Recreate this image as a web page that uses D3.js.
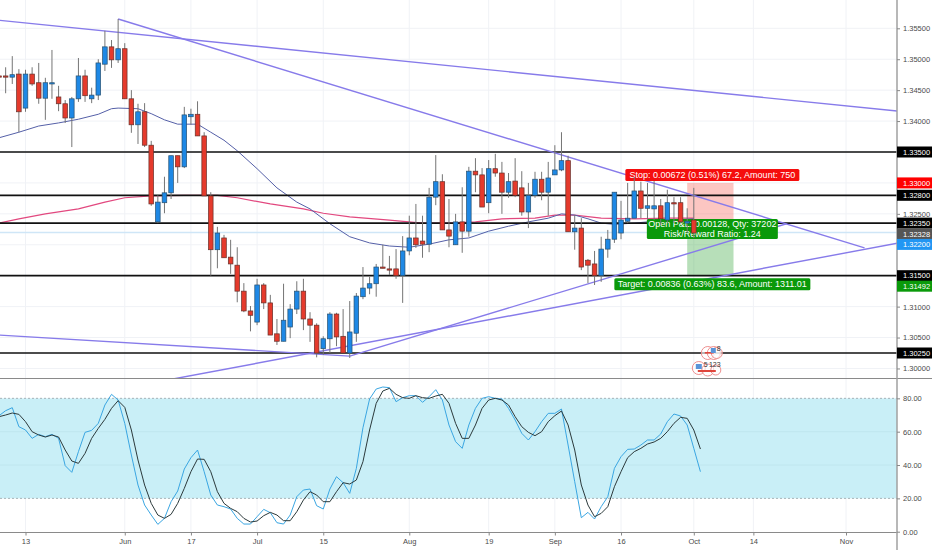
<!DOCTYPE html>
<html>
<head>
<meta charset="utf-8">
<script src="https://cdnjs.cloudflare.com/ajax/libs/d3/7.8.5/d3.min.js"></script>
<style>
  html, body { margin: 0; padding: 0; background: #fff; }
  svg { display: block; font-family: "Liberation Sans", sans-serif; }
  .axis path, .axis line { stroke: none; }
  .axis text { fill: #4a4a4a; font-family: "Liberation Sans", sans-serif; }
</style>
</head>
<body>
<div id="chart"></div>
<script>
// Daily candles, bar number 0 is 13 May, first visible bar is -4
const firstBar = -4;
const opens = [
  1.3473,1.3473,1.3471,1.3476,1.3421,1.3476,1.3462,1.3437,1.3460,1.3439,
  1.3428,1.3405,1.3436,1.3473,1.3436,1.3442,1.3492,1.3520,1.3499,1.3517,
  1.3436,1.3394,1.3415,1.3361,1.3237,1.3268,1.3284,1.3344,1.3326,1.3407,
  1.3411,1.3376,1.3279,1.3192,1.3211,1.3180,1.3167,1.3125,1.3093,1.3075,
  1.3135,1.3106,1.3056,1.3044,1.3067,1.3096,1.3125,1.3080,1.3070,1.3032,
  1.3048,1.3088,1.3052,1.3025,1.3057,1.3116,1.3130,1.3137,1.3164,1.3161,
  1.3161,1.3150,1.3190,1.3211,1.3206,1.3201,1.3277,1.3302,1.3224,1.3200,
  1.3237,1.3222,1.3319,1.3313,1.3268,1.3323,1.3316,1.3285,1.3303,1.3292,
  1.3253,1.3280,1.3306,1.3285,1.3313,1.3321,1.3336,1.3221,1.3227,1.3175,
  1.3169,1.3150,1.3193,1.3209,1.3219,1.3238,1.3243,1.3287,1.3259,1.3258,
  1.3263,1.3240,1.3268,1.3268,1.3235,1.3240
];
const highs = [
  1.3471,1.3487,1.3505,1.3484,1.3483,1.3487,1.3494,1.3470,1.3515,1.3457,
  1.3434,1.3439,1.3502,1.3483,1.3454,1.3500,1.3546,1.3531,1.3565,1.3526,
  1.3450,1.3428,1.3429,1.3368,1.3280,1.3310,1.3344,1.3344,1.3423,1.3420,
  1.3432,1.3382,1.3285,1.3229,1.3216,1.3208,1.3196,1.3138,1.3101,1.3145,
  1.3138,1.3119,1.3080,1.3137,1.3104,1.3141,1.3145,1.3091,1.3073,1.3052,
  1.3091,1.3090,1.3096,1.3109,1.3122,1.3164,1.3148,1.3169,1.3200,1.3182,
  1.3193,1.3214,1.3247,1.3266,1.3247,1.3292,1.3345,1.3314,1.3274,1.3250,
  1.3293,1.3326,1.3340,1.3324,1.3337,1.3347,1.3334,1.3316,1.3340,1.3319,
  1.3300,1.3318,1.3318,1.3334,1.3361,1.3382,1.3344,1.3248,1.3243,1.3177,
  1.3190,1.3213,1.3224,1.3285,1.3271,1.3300,1.3310,1.3302,1.3300,1.3303,
  1.3274,1.3289,1.3277,1.3277,1.3259,1.3292
];
const lows = [
  1.3445,1.3445,1.3460,1.3382,1.3415,1.3457,1.3428,1.3402,1.3436,1.3416,
  1.3397,1.3358,1.3431,1.3431,1.3429,1.3434,1.3481,1.3486,1.3494,1.3436,
  1.3381,1.3363,1.3358,1.3263,1.3235,1.3251,1.3274,1.3300,1.3324,1.3394,
  1.3376,1.3279,1.3150,1.3162,1.3179,1.3153,1.3107,1.3091,1.3060,1.3070,
  1.3096,1.3054,1.3038,1.3044,1.3049,1.3088,1.3062,1.3043,1.3018,1.3022,
  1.3025,1.3036,1.3025,1.3017,1.3043,1.3112,1.3120,1.3116,1.3162,1.3151,
  1.3145,1.3106,1.3183,1.3195,1.3179,1.3188,1.3264,1.3224,1.3196,1.3200,
  1.3187,1.3213,1.3285,1.3261,1.3251,1.3310,1.3250,1.3276,1.3277,1.3247,
  1.3227,1.3276,1.3272,1.3247,1.3313,1.3319,1.3221,1.3192,1.3159,1.3138,
  1.3135,1.3140,1.3179,1.3203,1.3209,1.3235,1.3243,1.3243,1.3240,1.3240,
  1.3232,1.3235,1.3235,1.3235,1.3219,1.3211
];
const closes = [
  1.3471,1.3471,1.3475,1.3415,1.3476,1.3460,1.3437,1.3462,1.3462,1.3428,
  1.3405,1.3436,1.3473,1.3441,1.3442,1.3494,1.3520,1.3499,1.3517,1.3436,
  1.3394,1.3415,1.3361,1.3266,1.3269,1.3284,1.3344,1.3326,1.3410,1.3411,
  1.3376,1.3279,1.3192,1.3219,1.3179,1.3169,1.3125,1.3093,1.3086,1.3135,
  1.3106,1.3054,1.3044,1.3078,1.3096,1.3125,1.3080,1.3070,1.3025,1.3048,
  1.3088,1.3051,1.3025,1.3059,1.3117,1.3130,1.3137,1.3164,1.3162,1.3159,
  1.3150,1.3190,1.3211,1.3200,1.3201,1.3277,1.3302,1.3224,1.3214,1.3237,
  1.3222,1.3319,1.3313,1.3261,1.3323,1.3316,1.3285,1.3302,1.3280,1.3253,
  1.3280,1.3306,1.3285,1.3308,1.3321,1.3336,1.3221,1.3227,1.3164,1.3167,
  1.3150,1.3193,1.3209,1.3285,1.3240,1.3243,1.3287,1.3259,1.3263,1.3263,
  1.3242,1.3268,1.3266,1.3237,1.3238,1.3219
];

// Moving averages, read at every few bars
const maBars = [-4,-1,2,5,8,11,13,14,17,19,21,23,25,26,28,30,32,35,38,41,43,46,49,52,55,58,61,64,67,70,73,76,79,81,83,85,87,89,92,95,98,101];
const maValues = [
  1.3373,1.3382,1.3392,1.3397,1.3403,1.3411,1.3420,1.3421,1.3420,1.3412,1.3402,1.3395,1.3395,1.3395,
  1.3382,1.3369,1.3352,1.3323,1.3292,1.3269,1.3258,1.3234,1.3213,1.3203,1.3198,1.3196,1.3201,1.3208,
  1.3211,1.3222,1.3230,1.3237,1.3243,1.3250,1.3248,1.3242,1.3235,1.3233,1.3235,1.3238,1.3240,1.3242
];
const longMaBars = [-4,-1,3,8,12,15,19,24,29,32,37,42,45,49,55,60,64,68,72,77,80,83,87,92,97,101];
const longMaValues = [
  1.3235,1.3242,1.3250,1.3258,1.3269,1.3276,1.3279,1.3280,1.3280,1.3276,1.3266,1.3258,1.3251,
  1.3245,1.3240,1.3235,1.3235,1.3237,1.3242,1.3243,1.3248,1.3248,1.3243,1.3242,1.3243,1.3243
];

// Stochastic, one value for each bar from firstBar on
const stochK = [
  69.6,72.6,74.4,63,61,56,58.4,57,58.4,56,39.6,35.6,48,59.6,60.8,65,76,82.4,79,65,
  46,28,16,10,4.4,8,18,24.4,37.6,44.4,49,36,22,16,15,13.6,8,4.6,4.6,9,
  13.4,11.4,5.4,4.6,10,21,25,25.6,15.6,13.6,25.6,33,29.4,23,38,62.4,79.6,85.6,86.8,86.4,
  78,80.4,81.6,81.6,77.6,81,85.2,79,64,54,50,64,74,80,81,80,79.6,74,67,59,
  55,60,66,71,71,73.6,52,30,8.4,11.6,7.6,15,21,38,45,49.4,49.6,52,55,55,
  58.6,66,70.6,69.4,64,50,36
];
const stochD = [
  69,70,71.2,70.4,66,60,58,56.8,58,56.8,49,42.4,41,47,56,62,67.4,74,78.6,74.6,
  61,43,28,17,10,8,10.4,17,26,36,43.6,43.4,36,24,17,14,12,8,5.8,6.4,
  9.6,11.6,10,6.6,6.6,12,19,24,22,18,18,24,29.4,28.6,31,42,61,77,84.4,86,
  82.4,80.4,80,81.6,80.4,80,81.4,82.4,77,65,56,56,64,74,79,80,79,76,69,63,
  59.6,57.6,60,66,69.6,72.4,64,49,28,16,9,11,15,27,36,44.4,48,50,52.6,53.8,
  56,60,65,68.6,68,61,49.6
];

// Horizontal levels and hand drawn trend lines [bar, price, bar, price]
const levels = [1.335, 1.328, 1.3235, 1.315, 1.3025];
const trendLines = [
  [-4, 1.3563, 132, 1.3416],
  [14, 1.3565, 126.8, 1.3195],
  [22.3, 1.2983, 132, 1.3203],
  [49, 1.3020, 115, 1.3234],
  [-4, 1.3054, 49, 1.3020]
];

// Axis labels
const priceTicks = [1.355, 1.35, 1.345, 1.34, 1.335, 1.33, 1.325, 1.32, 1.31, 1.305, 1.30];
const priceLabels = [1.355, 1.35, 1.345, 1.34, 1.325, 1.31, 1.305, 1.30];
const stochTicks = [80, 60, 40, 20, 0];
const timeBars = [0, 15, 25, 35, 45, 58, 70, 80, 90, 101, 110, 124];
const timeLabels = ["13", "Jun", "17", "Jul", "15", "Aug", "19", "Sep", "16", "Oct", "14", "Nov"];

// Price tags on the right
const tagPrices = [1.335, 1.33, 1.328, 1.3235, 1.32328, 1.322, 1.315, 1.31492, 1.3025];
const tagNudge = [0, 0, 0, 0, 10, 12, 0, 10, 0];
const tagColors = ["#000", "#f00", "#000", "#000", "#555", "#2196f3", "#000", "#0a9a0a", "#000"];

// Long position tool
const entryPrice = 1.32328, stopPrice = 1.33, targetPrice = 1.31492;
const positionBars = [100, 107];
const stopText = "Stop: 0.00672 (0.51%) 67.2, Amount: 750";
const pnlText = ["Open P&L: 0.00128, Qty: 37202", "Risk/Reward Ratio: 1.24"];
const targetText = "Target: 0.00836 (0.63%) 83.6, Amount: 1311.01";

const eventNumbers = ["8", "5", "12", "3"];

const width = 932, height = 550;
const axisX = 897, paneBottom = 378.5, stochBottom = 532.5;

const x = d3.scaleLinear().domain([0, 124]).range([25.5, 846]);
const y = d3.scaleLinear().domain([1.3025, 1.335]).range([353, 152]);
const yStoch = d3.scaleLinear().domain([0, 100]).range([531.7, 365]);

const svg = d3.select("#chart").append("svg")
  .attr("width", width)
  .attr("height", height);

svg.append("defs").append("clipPath").attr("id", "pricePane")
  .append("rect").attr("width", axisX).attr("height", paneBottom);

// Grid
const grid = svg.append("g").attr("stroke", "#f0f2f6").attr("stroke-width", 1);
grid.selectAll(".v").data(timeBars).join("line")
  .attr("x1", d => x(d)).attr("x2", d => x(d))
  .attr("y1", 0).attr("y2", stochBottom);
grid.selectAll(".h").data(priceTicks).join("line")
  .attr("x1", 0).attr("x2", axisX)
  .attr("y1", d => y(d)).attr("y2", d => y(d));

// Stochastic band
svg.append("rect")
  .attr("x", 0).attr("width", axisX)
  .attr("y", yStoch(80)).attr("height", yStoch(20) - yStoch(80))
  .attr("fill", "#c9eff7");
svg.selectAll(".stochGrid").data([60, 40]).join("line")
  .attr("x1", 0).attr("x2", axisX)
  .attr("y1", d => yStoch(d)).attr("y2", d => yStoch(d))
  .attr("stroke", "#bfe6ee");
svg.selectAll(".stochBand").data([80, 20]).join("line")
  .attr("x1", 0).attr("x2", axisX)
  .attr("y1", d => yStoch(d)).attr("y2", d => yStoch(d))
  .attr("stroke", "#a5b3b8")
  .attr("stroke-dasharray", "2,2");

const pane = svg.append("g").attr("clip-path", "url(#pricePane)");

// Position tool areas
pane.append("rect")
  .attr("x", x(positionBars[0])).attr("width", x(positionBars[1]) - x(positionBars[0]))
  .attr("y", y(stopPrice)).attr("height", y(entryPrice) - y(stopPrice))
  .attr("fill", "#f44336").attr("opacity", 0.3);
pane.append("rect")
  .attr("x", x(positionBars[0])).attr("width", x(positionBars[1]) - x(positionBars[0]))
  .attr("y", y(entryPrice)).attr("height", y(targetPrice) - y(entryPrice))
  .attr("fill", "#4caf50").attr("opacity", 0.4);

// Last price line
pane.append("line")
  .attr("x1", 0).attr("x2", axisX)
  .attr("y1", y(1.322)).attr("y2", y(1.322))
  .attr("stroke", "#cfe6f7").attr("stroke-width", 1.5);

// Moving averages
const maLine = d3.line().x(d => x(d[0])).y(d => y(d[1]));
pane.append("path")
  .attr("d", maLine(d3.zip(longMaBars, longMaValues)))
  .attr("fill", "none").attr("stroke", "#e2487f").attr("stroke-width", 1.2);
pane.append("path")
  .attr("d", maLine(d3.zip(maBars, maValues)))
  .attr("fill", "none").attr("stroke", "#5560a8").attr("stroke-width", 1);

// Levels
pane.selectAll(".level").data(levels).join("line")
  .attr("x1", 0).attr("x2", axisX)
  .attr("y1", d => y(d)).attr("y2", d => y(d))
  .attr("stroke", "#111").attr("stroke-width", 1.7);

// Trend lines
pane.selectAll(".trend").data(trendLines).join("line")
  .attr("x1", d => x(d[0])).attr("y1", d => y(d[1]))
  .attr("x2", d => x(d[2])).attr("y2", d => y(d[3]))
  .attr("stroke", "#877bea").attr("stroke-width", 1.4);

// Position tool labels
function label(cy, w, h, fill, lines) {
  const cx = (x(positionBars[0]) + x(positionBars[1])) / 2 + 2;
  pane.append("rect")
    .attr("x", cx - w / 2).attr("y", cy - h / 2)
    .attr("width", w).attr("height", h)
    .attr("rx", 1.5).attr("fill", fill);
  lines.forEach((t, i) => {
    pane.append("text")
      .attr("x", cx)
      .attr("y", cy + 3 + (i - (lines.length - 1) / 2) * 10)
      .attr("text-anchor", "middle")
      .attr("fill", "#fff")
      .style("font-size", "9px")
      .text(t);
  });
}
label(y(stopPrice) - 8, 174, 12, "#f50d0d", [stopText]);
label(y(entryPrice) + 4.5, 131, 20, "#0a990a", pnlText);
label(y(targetPrice) + 8, 196, 12, "#0a990a", [targetText]);

// Candles
const bars = opens.map((o, i) => ({ bar: firstBar + i, o, h: highs[i], l: lows[i], c: closes[i] }));
const candles = pane.selectAll(".candle").data(bars).join("g");
candles.append("line")
  .attr("x1", d => x(d.bar)).attr("x2", d => x(d.bar))
  .attr("y1", d => y(d.h)).attr("y2", d => y(d.l))
  .attr("stroke", "#757575").attr("stroke-width", 1);
candles.append("rect")
  .attr("x", d => x(d.bar) - 2.3).attr("width", 4.6)
  .attr("y", d => y(Math.max(d.o, d.c)))
  .attr("height", d => Math.max(Math.abs(y(d.o) - y(d.c)), 0.6))
  .attr("fill", d => d.c >= d.o ? "#1e88e5" : "#e53a2c")
  .attr("stroke", d => d.c >= d.o ? "#27506f" : "#66302a")
  .attr("stroke-width", 0.7);

// Event flags under the last candles
const flags = pane.append("g").attr("transform", `translate(${x(101)},${y(1.3025)})`);
[[14, 0, 6.5], [20, 0, 6.5], [23, 0, 5.5], [5, 15, 6.5], [14, 17, 6], [22, 17, 5]].forEach(d => {
  flags.append("circle")
    .attr("cx", d[0]).attr("cy", d[1]).attr("r", d[2])
    .attr("fill", "#fff").attr("fill-opacity", 0.6)
    .attr("stroke", "#ee8f8f").attr("stroke-width", 1);
});
[[11, -1, 9, 1.6], [4, 17, 18, 2]].forEach(d => {
  flags.append("rect").attr("x", d[0]).attr("y", d[1]).attr("width", d[2]).attr("height", d[3]).attr("fill", "#e0463c");
});
[[17, -5, 5, 5], [2, 11, 6, 5]].forEach(d => {
  flags.append("rect").attr("x", d[0]).attr("y", d[1]).attr("width", d[2]).attr("height", d[3]).attr("fill", "#5a94d8");
});
[[25, -2.5], [12, 13.5], [19, 13.5], [25, 13.5]].forEach((d, i) => {
  flags.append("text")
    .attr("x", d[0]).attr("y", d[1])
    .attr("text-anchor", "middle")
    .attr("fill", "#333")
    .style("font-size", "7px")
    .text(eventNumbers[i]);
});

// Stochastic lines
const stochLine = d3.line().x((d, i) => x(firstBar + i)).y(d => yStoch(d));
svg.append("path").attr("d", stochLine(stochK))
  .attr("fill", "none").attr("stroke", "#3aa6e2").attr("stroke-width", 1);
svg.append("path").attr("d", stochLine(stochD))
  .attr("fill", "none").attr("stroke", "#2c3a3c").attr("stroke-width", 1);

// Pane borders
svg.append("line").attr("x1", 0).attr("x2", width).attr("y1", paneBottom).attr("y2", paneBottom)
  .attr("stroke", "#8a8a8a").attr("stroke-width", 1.2);
svg.append("line").attr("x1", 0).attr("x2", axisX).attr("y1", stochBottom).attr("y2", stochBottom)
  .attr("stroke", "#8a8a8a").attr("stroke-width", 1.2);
svg.append("line").attr("x1", axisX).attr("x2", axisX).attr("y1", 0).attr("y2", height)
  .attr("stroke", "#a0a0a0").attr("stroke-width", 1.5);

// Axes
const priceAxis = svg.append("g").attr("class", "axis")
  .attr("transform", `translate(${axisX},0)`)
  .call(d3.axisRight(y).tickValues(priceLabels).tickFormat(d3.format(".5f")).tickSize(3).tickPadding(3));
priceAxis.selectAll("text").style("font-size", "7.5px");
priceAxis.selectAll("line").style("stroke", "#888");

const stochAxis = svg.append("g").attr("class", "axis")
  .attr("transform", `translate(${axisX},0)`)
  .call(d3.axisRight(yStoch).tickValues(stochTicks).tickFormat(d3.format(".2f")).tickSize(3).tickPadding(3));
stochAxis.selectAll("text").style("font-size", "7.5px");
stochAxis.selectAll("line").style("stroke", "#888");

const timeAxis = svg.append("g").attr("class", "axis")
  .attr("transform", `translate(0,${stochBottom})`)
  .call(d3.axisBottom(x).tickValues(timeBars).tickFormat((d, i) => timeLabels[i]).tickSize(3).tickPadding(3));
timeAxis.selectAll("text").style("font-size", "7.5px");
timeAxis.selectAll("line").style("stroke", "#888");

// Price tags
const tags = svg.selectAll(".tag").data(tagPrices).join("g")
  .attr("transform", (d, i) => `translate(${axisX},${y(d) + tagNudge[i]})`);
tags.append("rect")
  .attr("y", -5.5).attr("width", width - axisX).attr("height", 11)
  .attr("fill", (d, i) => tagColors[i]);
tags.append("text")
  .attr("x", 6).attr("y", 2.6)
  .attr("fill", "#fff")
  .style("font-size", "7.5px")
  .text(d => d3.format(".5f")(d));
</script>
</body>
</html>
